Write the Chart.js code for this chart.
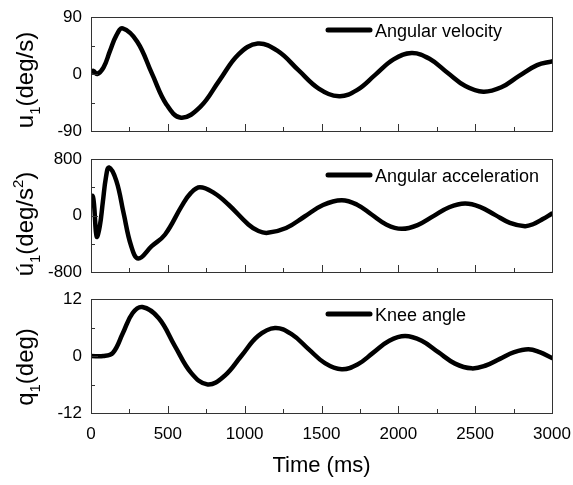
<!DOCTYPE html>
<html><head><meta charset="utf-8">
<script src="https://cdn.jsdelivr.net/npm/chart.js@4.4.0/dist/chart.umd.min.js"></script>
<style>
html,body{margin:0;padding:0;background:#fff;}
#wrap{position:relative;width:573px;height:485px;overflow:hidden;background:#fff;}
.c{position:absolute;left:0;width:573px;}
canvas{display:block;}
</style></head><body>
<div id="wrap">
<div class="c" style="top:0;height:146px"><canvas id="c1" width="573" height="146"></canvas></div>
<div class="c" style="top:146px;height:140px"><canvas id="c2" width="573" height="140"></canvas></div>
<div class="c" style="top:286px;height:199px"><canvas id="c3" width="573" height="199"></canvas></div>
</div>
<script>
// ---- data ----
const timeVel = [0,15,40,81,123,165,206,301,396,491,586,711,836,960,1085,1217,1350,1482,1615,1733,1851,1969,2087,2203,2320,2436,2553,2670,2786,2903,3000];
const angularVelocity = [3,5,0,10,36,61,72,51,1,-48,-69,-52,-10,31,48,36,6,-23,-35,-25,-1,23,33,24,2,-19,-28,-21,-3,14,20];

const timeAcc = [0,10,20,37,57,77,97,117,165,212,260,308,395,482,590,650,709,800,894,1024,1090,1150,1270,1390,1510,1631,1729,1826,1924,2022,2125,2228,2331,2434,2531,2629,2726,2824,2880,2940,3000];
const angularAcceleration = [150,280,150,-300,-153,190,536,680,491,35,-421,-610,-434,-269,132,320,400,320,156,-127,-220,-245,-177,-14,149,217,157,14,-130,-189,-136,-9,117,170,123,9,-104,-151,-120,-50,28];

const timeKnee = [0,80,143,207,270,334,440,546,653,759,868,978,1087,1197,1305,1414,1522,1631,1734,1837,1941,2044,2152,2260,2369,2477,2569,2661,2754,2846,2920,3000];
const kneeAngle = [0,0,0.7,4.8,9.0,10.3,8.0,2.1,-3.6,-6,-4.2,0,4.2,5.9,4.6,1.5,-1.5,-2.8,-1.8,0.7,3.2,4.2,3.2,0.8,-1.6,-2.6,-2,-0.6,0.8,1.4,0.8,-0.4];

const xRange = [0, 3000];
const xStep = 250, xLabelStep = 500;
const velRange = [-90, 90], velStep = 45, velLabelStep = 90;
const accRange = [-800, 800], accStep = 400, accLabelStep = 800;
const kneeRange = [-12, 12], kneeStep = 6, kneeLabelStep = 12;

const legendLabels = ['Angular velocity', 'Angular acceleration', 'Knee angle'];
const xTitle = 'Time (ms)';

// ---- styling ----
const FONT = '"Liberation Sans", Arial, Helvetica, sans-serif';
const FRAME = '#333';

const decor = {
  id: 'decor',
  afterDatasetsDraw(chart, args, o) {
    const ctx = chart.ctx, a = chart.chartArea, xs = chart.scales.x, ys = chart.scales.y;
    ctx.save();
    ctx.strokeStyle = FRAME; ctx.lineWidth = 1;
    ctx.strokeRect(Math.round(a.left) + 0.5, Math.round(a.top) + 0.5, Math.round(a.right - a.left), Math.round(a.bottom - a.top));
    ctx.beginPath();
    xs.ticks.forEach(t => {
      const px = Math.round(xs.getPixelForValue(t.value)) + 0.5;
      const len = (Math.abs(t.value) % o.xMajor === 0) ? 7 : 4;
      ctx.moveTo(px, a.bottom); ctx.lineTo(px, a.bottom - len);
    });
    ys.ticks.forEach(t => {
      const py = Math.round(ys.getPixelForValue(t.value)) + 0.5;
      const len = (Math.abs(t.value) % o.yMajor === 0) ? 7 : 4;
      ctx.moveTo(a.left, py); ctx.lineTo(a.left + len, py);
    });
    ctx.stroke();
    // legend
    const ly = a.top + o.legendDy;
    ctx.strokeStyle = '#000'; ctx.lineWidth = 5; ctx.lineCap = 'round';
    ctx.beginPath(); ctx.moveTo(a.right - 224, ly); ctx.lineTo(a.right - 182, ly); ctx.stroke();
    ctx.fillStyle = '#000'; ctx.font = '18px ' + FONT; ctx.textBaseline = 'alphabetic'; ctx.textAlign = 'left';
    ctx.fillText(chart.data.datasets[0].label, a.right - 177, ly + 7);
    // rotated y title with sub/superscripts
    const size = o.titleSize, small = Math.round(size * 0.62);
    let total = 0;
    o.title.forEach(p => { ctx.font = (p.sub || p.sup ? small : size) + 'px ' + FONT; p.w = ctx.measureText(p.t).width; total += p.w; });
    ctx.translate(o.titleX, o.titleY);
    ctx.rotate(-Math.PI / 2);
    let x = -total / 2;
    o.title.forEach(p => {
      ctx.font = (p.sub || p.sup ? small : size) + 'px ' + FONT;
      const dy = p.sub ? size * 0.3 : (p.sup ? -size * 0.42 : 0);
      ctx.fillText(p.t, x, dy);
      x += p.w;
    });
    ctx.restore();
  }
};

function makeChart(id, times, values, label, yr, ystep, ylab, opts) {
  const pts = times.map((t, i) => ({ x: t, y: values[i] }));
  const bottomAxis = !!opts.bottomAxis;
  return new Chart(document.getElementById(id), {
    type: 'line',
    data: { datasets: [{ label, data: pts, borderColor: '#000', borderWidth: 4.5, pointRadius: 0,
      tension: 0.4, borderJoinStyle: 'round', borderCapStyle: 'round', fill: false }] },
    options: {
      responsive: false, animation: false, events: [],
      layout: { padding: { left: 0, right: 21, top: opts.padTop, bottom: opts.padBottom } },
      plugins: {
        legend: { display: false }, tooltip: { enabled: false },
        decor: { xMajor: xLabelStep, yMajor: ylab, legendDy: opts.legendDy, title: opts.title,
          titleX: opts.titleX, titleY: opts.titleY, titleSize: opts.titleSize }
      },
      scales: {
        x: {
          type: 'linear', min: xRange[0], max: xRange[1],
          grid: { display: false, drawTicks: false }, border: { display: false },
          ticks: { display: bottomAxis, stepSize: xStep, padding: 11, color: '#000',
            font: { family: FONT, size: 17 }, maxRotation: 0, autoSkip: false,
            callback: v => (v % xLabelStep === 0 ? String(v) : '') },
          title: { display: bottomAxis, text: xTitle, color: '#000', font: { family: FONT, size: 22 },
            padding: { top: 0, bottom: 6 } },
          afterFit: s => { s.height = bottomAxis ? opts.xHeight : 0; s.paddingLeft = 0; s.paddingRight = 0; }
        },
        y: {
          min: yr[0], max: yr[1],
          grid: { display: false, drawTicks: false }, border: { display: false },
          ticks: { stepSize: ystep, padding: 9, color: '#000', font: { family: FONT, size: 17 },
            autoSkip: false, callback: v => (v % ylab === 0 ? String(v) : '') },
          afterFit: s => { s.width = 91; s.paddingTop = 0; s.paddingBottom = 0; }
        }
      }
    },
    plugins: [decor]
  });
}

makeChart('c1', timeVel, angularVelocity, legendLabels[0], velRange, velStep, velLabelStep, {
  padTop: 17, padBottom: 15, legendDy: 13, titleX: 33, titleY: 80, titleSize: 24,
  title: [{ t: 'u' }, { t: '1', sub: true }, { t: '(deg/s)' }]
});
makeChart('c2', timeAcc, angularAcceleration, legendLabels[1], accRange, accStep, accLabelStep, {
  padTop: 13, padBottom: 14, legendDy: 16, titleX: 33, titleY: 78, titleSize: 24,
  title: [{ t: 'ú' }, { t: '1', sub: true }, { t: '(deg/s' }, { t: '2', sup: true }, { t: ')' }]
});
makeChart('c3', timeKnee, kneeAngle, legendLabels[2], kneeRange, kneeStep, kneeLabelStep, {
  padTop: 13, padBottom: 0, legendDy: 15, titleX: 33, titleY: 81, titleSize: 24, bottomAxis: true, xHeight: 72,
  title: [{ t: 'q' }, { t: '1', sub: true }, { t: '(deg)' }]
});
</script>
</body></html>
